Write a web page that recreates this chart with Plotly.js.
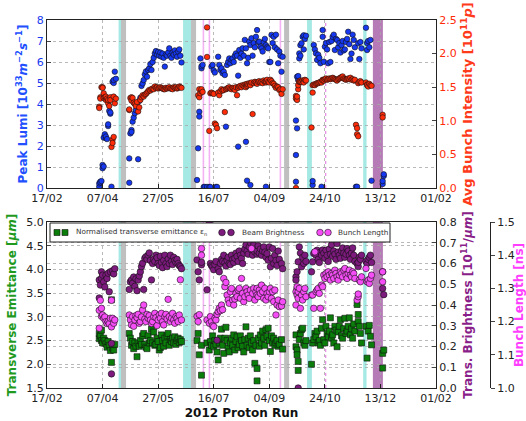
<!DOCTYPE html>
<html><head><meta charset="utf-8">
<script src="https://cdn.plot.ly/plotly-3.0.1.min.js"></script>
<style>html,body{margin:0;padding:0;background:#fff}#chart{width:526px;height:421px}</style>
</head><body><div id="chart"></div>
<script>
// ---------------- DATA (top panel: per fill) ----------------
const topDays = [
 '04-04','04-04','04-05','04-05','04-06','04-07','04-07','04-08','04-08','04-09','04-10','04-10','04-11','04-12','04-12','04-13','04-14','04-14','04-15','04-16','04-16','04-17','04-17','04-18','04-19',
 '05-01','05-01','05-02','05-03','05-03','05-04','05-05','05-06','05-07','05-08','05-09','05-10','05-11','05-12','05-13','05-14','05-15','05-16','05-17','05-18','05-19','05-20','05-21','05-22','05-23','05-24','05-25','05-26','05-27','05-28','05-29','05-30','05-31',
 '06-01','06-02','06-03','06-04','06-05','06-06','06-07','06-08','06-09','06-10','06-11','06-12','06-13','06-14','06-15','06-16','06-17',
 '07-01','07-02','07-03','07-03','07-04','07-05','07-05','07-06','07-07','07-08','07-10','07-10','07-12','07-13','07-14','07-15','07-16','07-17','07-18','07-19','07-20','07-21','07-22','07-23','07-24','07-25','07-26','07-27','07-28','07-29','07-30','07-31',
 '08-01','08-02','08-03','08-04','08-05','08-06','08-07','08-07','08-08','08-09','08-10','08-11','08-12','08-13','08-14','08-14','08-15','08-15','08-16','08-17','08-18','08-18','08-19','08-20','08-21','08-22','08-23','08-24','08-25','08-26','08-27','08-28','08-29','08-30','08-31',
 '09-01','09-01','09-02','09-03','09-04','09-05','09-06','09-07','09-08','09-09','09-10','09-11','09-12','09-13','09-14','09-15','09-16',
 '09-28','09-28','09-28','09-29','09-29','09-30','09-30','10-01','10-01','10-02','10-02','10-03','10-04','10-05','10-05','10-06','10-07',
 '10-12','10-13','10-13','10-14','10-15','10-16','10-17','10-18','10-19','10-20','10-21','10-22','10-22','10-23','10-24','10-25','10-26','10-27','10-28','10-29','10-30','10-31',
 '11-01','11-02','11-03','11-04','11-05','11-06','11-07','11-08','11-09','11-10','11-11','11-12','11-13','11-14','11-15','11-16','11-17','11-18','11-19','11-20','11-21','11-22','11-22','11-23','11-23','11-24','11-25','11-26',
 '11-30','12-01','12-01','12-02','12-03','12-04','12-05','12-15','12-15','12-16','12-16'
];
const peakLumi = [
 0.06,0.22,0.30,0.27,0.33,0.94,1.10,1.02,2.40,2.56,2.37,2.45,2.33,2.95,3.03,3.67,3.54,3.60,0.06,null,5.06,5.00,5.14,5.54,5.20,
 0.25,1.41,2.60,2.76,2.67,3.16,3.35,3.56,3.71,3.92,1.37,4.14,4.30,4.86,4.98,5.14,5.41,5.55,5.30,5.62,5.70,5.90,5.62,6.00,6.20,6.41,6.52,6.35,6.48,6.30,6.45,6.25,6.40,
 6.20,5.78,6.35,6.30,6.45,6.65,6.30,6.20,6.45,6.35,6.55,6.40,6.25,6.50,6.60,6.30,5.98,
 0.38,1.89,3.63,3.40,6.17,5.70,5.80,5.86,0.05,0.05,0.05,null,0.05,0.05,5.78,5.86,5.60,5.50,0.05,0.05,6.25,5.86,5.62,5.70,5.46,5.54,5.38,2.92,5.86,6.00,6.17,5.94,
 6.10,6.17,6.00,6.30,6.41,6.30,5.35,1.97,6.57,6.20,6.40,6.65,6.30,7.05,6.65,2.20,0.35,5.94,6.20,6.97,6.81,0.14,7.13,6.30,6.90,6.70,7.20,7.52,6.95,6.97,6.73,6.65,6.50,6.95,7.10,
 0.06,6.80,6.70,6.65,6.00,6.00,7.29,6.90,7.20,6.70,7.30,6.60,5.94,6.50,6.30,5.54,6.25,
 0.30,1.57,3.21,2.84,5.30,5.14,5.33,6.41,6.17,6.30,6.80,6.89,7.20,7.27,6.60,7.10,7.25,
 null,0.14,0.33,6.81,6.60,6.41,6.10,6.35,6.20,5.94,0.06,7.52,7.20,6.01,6.73,6.90,6.60,5.94,6.95,6.00,7.00,7.20,
 7.30,6.57,7.10,7.05,6.70,6.90,6.45,6.80,7.00,6.55,6.60,6.95,7.10,7.44,6.85,6.14,6.40,7.30,7.05,6.70,0.06,0.06,null,null,6.89,6.14,6.95,6.65,
 7.63,6.57,6.90,7.00,6.70,7.05,0.35,0.19,0.33,0.57,0.65
];
const bunchIntensity = [
 1.21,1.19,1.35,1.33,1.50,1.50,1.49,1.34,1.41,1.35,1.31,1.36,1.33,1.26,1.31,1.22,1.35,1.31,0.61,0.72,0.67,0.76,1.36,1.26,1.33,
 1.16,1.17,1.34,1.35,1.30,1.34,1.27,1.25,1.22,1.28,1.14,1.20,1.31,1.35,1.38,1.36,1.39,1.40,1.42,1.44,1.46,1.45,1.47,1.48,1.47,1.51,1.49,1.50,1.48,1.49,1.50,1.49,1.48,
 1.47,1.47,1.49,1.48,1.49,1.50,1.48,1.48,1.47,1.50,1.49,1.50,1.48,1.49,1.51,1.50,1.49,
 null,1.38,1.47,1.35,1.41,1.44,1.47,1.43,null,null,2.39,1.95,0.85,1.41,1.42,1.41,1.40,0.96,0.94,0.89,1.42,1.38,1.44,1.47,1.45,1.46,1.13,1.47,1.48,1.49,1.50,1.48,
 1.47,1.49,1.48,1.46,1.50,1.38,1.50,1.49,1.51,1.52,1.50,1.53,1.52,1.54,1.53,1.50,1.52,1.55,1.54,1.56,1.55,1.53,1.57,1.10,1.56,1.58,1.57,1.55,1.58,1.59,1.57,1.58,1.56,1.60,1.58,
 1.57,1.59,1.61,1.58,1.57,1.61,1.59,1.56,1.55,1.52,1.49,1.51,1.50,1.46,1.47,1.40,1.47,
 0.00,1.37,1.33,1.31,1.36,1.47,1.53,1.58,1.59,1.60,1.58,1.58,1.60,1.59,1.57,1.61,1.60,
 0.90,1.42,1.53,1.54,1.53,1.55,1.56,1.56,1.57,1.58,1.57,1.61,1.60,1.60,1.62,1.63,1.61,1.62,1.63,1.62,1.63,1.64,
 1.63,1.62,1.61,1.60,1.62,1.63,1.64,1.65,1.66,1.63,1.62,1.61,1.62,1.63,1.62,1.64,1.61,1.62,1.60,1.61,0.94,0.89,0.80,0.77,1.56,1.58,1.59,1.57,
 1.57,1.54,1.53,1.51,1.55,1.53,1.52,1.09,1.05,null,null
];

// ---------------- DATA (bottom panel: per fill) ----------------
const botDays = [
 '04-04','04-04','04-05','04-06','04-06','04-07','04-08','04-09','04-10','04-11','04-12','04-13','04-14','04-15','04-15','04-16','04-17','04-18',
 '05-01','05-02','05-03','05-04','05-05','05-06','05-07','05-08','05-09','05-10','05-11','05-12','05-13','05-14','05-15','05-16','05-17','05-18','05-19','05-20','05-21','05-22','05-23','05-24','05-25','05-26','05-27','05-28','05-29','05-30','05-31',
 '06-01','06-02','06-03','06-04','06-05','06-06','06-07','06-08','06-09','06-10','06-11','06-12','06-13','06-14','06-15','06-16','06-17',
 '07-01','07-02','07-03','07-05','07-05','07-10','07-12','07-13','07-14','07-15','07-16','07-17','07-18','07-19','07-20','07-21','07-22','07-23','07-24','07-25','07-26','07-27','07-28','07-29','07-30','07-31',
 '08-01','08-02','08-03','08-04','08-05','08-06','08-07','08-08','08-09','08-10','08-11','08-12','08-13','08-14','08-15','08-16','08-17','08-18','08-19','08-20','08-21','08-22','08-23','08-24','08-24','08-25','08-26','08-27','08-28','08-29','08-30','08-31',
 '09-01','09-02','09-03','09-04','09-05','09-06','09-07','09-08','09-09','09-10','09-11','09-12','09-13','09-15','09-16',
 '09-28','09-28','09-29','09-29','09-30','09-30','10-01','10-02','10-03','10-04','10-05','10-06','10-07',
 '10-12','10-13','10-14','10-15','10-16','10-17','10-18','10-19','10-20','10-21','10-22','10-23','10-24','10-25','10-26','10-27','10-28','10-29','10-30','10-31',
 '11-01','11-02','11-03','11-04','11-05','11-06','11-07','11-08','11-09','11-10','11-11','11-12','11-13','11-14','11-15','11-16','11-17','11-18','11-19','11-20','11-22','11-23','11-23','11-24','11-25','11-26',
 '11-30','12-01','12-02','12-03','12-04','12-05','12-15','12-15','12-16'
];
const emittance = [
 2.54,2.65,2.60,2.72,2.50,2.45,2.55,2.50,2.43,2.36,2.48,2.40,2.29,2.04,3.36,2.35,2.30,2.42,
 2.65,2.55,2.40,2.48,2.33,2.45,2.38,2.16,2.45,2.38,2.50,2.42,2.60,2.65,2.42,2.36,2.33,2.60,2.45,2.50,2.74,2.45,2.68,2.40,2.42,2.55,2.48,2.30,2.35,2.62,2.50,
 2.38,2.55,2.45,2.60,2.65,2.40,2.52,2.48,2.55,2.45,2.58,2.42,2.50,2.55,2.46,2.52,2.48,
 2.50,2.65,2.20,1.77,2.40,2.45,2.30,2.48,2.40,2.60,2.38,2.50,2.42,2.26,2.09,2.45,2.55,2.74,2.40,2.23,2.55,2.78,2.50,2.35,2.26,2.45,
 2.55,2.40,2.62,2.30,2.48,2.58,2.35,2.42,2.60,2.50,2.38,2.26,2.52,2.79,2.40,2.55,2.35,2.60,2.45,2.30,2.50,2.02,2.40,1.91,1.65,2.55,2.38,2.62,2.45,2.70,2.55,2.40,
 2.73,2.59,2.76,2.50,2.27,2.60,2.45,2.55,2.40,2.45,2.50,2.38,2.42,2.52,2.32,
 2.62,2.37,2.30,2.20,2.06,1.87,2.52,2.65,2.73,2.76,2.45,2.40,2.50,
 2.00,2.45,2.52,2.65,2.58,2.70,2.45,2.50,2.40,2.76,2.94,2.52,2.45,2.80,2.65,2.58,2.70,2.98,2.55,2.62,
 2.45,2.80,2.72,2.37,2.68,2.80,2.94,2.60,2.55,2.75,2.97,2.65,2.70,2.80,2.98,2.62,2.75,2.55,2.85,2.70,3.26,3.05,2.90,2.80,2.65,2.45,
 2.80,2.13,2.70,2.82,2.59,2.41,1.92,2.23,2.30
];
const brightness = [
 0.434,0.521,0.496,0.528,0.560,0.544,0.512,0.487,0.544,0.528,0.553,0.464,0.560,0.215,0.068,0.565,0.550,0.575,
 0.475,0.512,0.521,0.505,0.535,0.490,0.526,0.469,0.520,0.540,0.560,0.585,0.601,0.475,0.625,0.633,0.620,0.640,0.651,0.615,0.521,0.600,0.620,0.610,0.640,0.628,0.600,0.590,0.635,0.605,0.580,
 0.615,0.640,0.600,0.585,0.622,0.600,0.640,0.610,0.595,0.630,0.615,0.605,0.620,0.600,0.590,0.585,0.575,
 0.617,0.560,0.521,0.594,0.606,0.473,0.800,0.600,0.590,0.585,0.570,0.595,0.610,0.230,0.575,0.560,0.600,0.620,0.610,0.640,0.605,0.588,0.615,0.630,0.600,0.595,
 0.640,0.620,0.605,0.625,0.650,0.635,0.610,0.660,0.640,0.625,0.600,0.650,0.670,0.690,0.660,0.645,0.680,0.700,0.665,0.640,0.690,0.655,0.670,0.645,0.660,0.685,0.650,0.670,0.640,0.660,0.680,0.655,
 0.630,0.648,0.616,0.680,0.584,0.625,0.672,0.600,0.640,0.615,0.590,0.660,0.620,0.600,0.575,
 0.536,0.520,0.480,0.560,0.000,0.608,0.680,0.650,0.584,0.630,0.600,0.640,0.610,
 0.560,0.608,0.648,0.655,0.640,0.664,0.620,0.605,0.655,0.640,0.665,0.650,0.625,0.664,0.640,0.610,0.670,0.645,0.690,0.635,
 0.660,0.645,0.620,0.696,0.655,0.640,0.625,0.660,0.675,0.650,0.630,0.645,0.672,0.660,0.640,0.620,0.650,0.675,0.640,0.610,0.600,0.585,0.605,0.630,0.620,0.640,
 0.610,0.600,0.620,0.630,0.640,0.605,0.560,0.480,0.450
];
const bunchLength = [
 1.234,1.180,1.264,1.216,1.240,1.220,1.210,1.214,1.200,1.194,1.200,1.194,1.210,1.184,1.264,1.210,1.195,1.205,
 1.220,1.205,1.190,1.215,1.186,1.205,1.218,1.212,1.222,1.195,1.200,1.214,1.235,1.250,1.208,1.200,1.222,1.210,1.218,1.205,1.194,1.200,1.215,1.225,1.212,1.188,1.205,1.220,1.210,1.225,1.200,
 1.190,1.215,1.222,1.208,1.267,1.215,1.200,1.210,1.225,1.205,1.195,1.215,1.210,1.200,1.220,1.326,1.205,
 1.216,1.200,1.221,1.420,1.400,1.205,1.195,1.215,1.200,1.188,1.185,1.210,1.205,1.222,1.230,1.240,1.233,1.250,1.236,1.330,1.305,1.318,1.280,1.265,1.255,1.290,
 1.300,1.265,1.250,1.268,1.285,1.275,1.295,1.300,1.270,1.330,1.285,1.260,1.275,1.300,1.290,1.280,1.270,1.295,1.420,1.285,1.300,1.265,1.290,1.280,1.300,1.275,1.295,1.285,1.310,1.290,1.270,1.300,
 1.265,1.285,1.275,1.290,1.300,1.270,1.290,1.260,1.295,1.220,1.250,1.265,1.245,1.247,1.260,
 1.250,1.290,1.305,1.280,1.270,1.290,1.300,1.240,1.280,1.265,1.290,1.300,1.275,
 1.280,1.280,1.240,1.410,1.290,1.295,1.300,1.285,1.240,1.310,1.305,1.340,1.330,1.345,1.335,1.350,1.340,1.325,1.345,1.340,
 1.330,1.355,1.345,1.335,1.325,1.340,1.350,1.345,1.335,1.355,1.360,1.340,1.330,1.345,1.355,1.340,1.335,1.350,1.345,1.330,1.265,1.275,1.283,1.325,1.320,1.335,
 1.360,1.320,1.325,1.315,1.330,1.340,1.350,1.320,null
];

// ---------------- beam-mode periods (shaded bands / lines) ----------------
const bandStart = ['2012-04-21 10:00','2012-04-23 14:00','2012-06-18 10:00','2012-06-25 14:00','2012-09-17 08:00','2012-10-08 00:00','2012-11-27 12:00','2012-12-06 05:00'];
const bandEnd   = ['2012-04-23 14:00','2012-04-28 03:00','2012-06-25 14:00','2012-06-30 03:00','2012-09-21 20:00','2012-10-12 08:00','2012-11-30 12:00','2012-12-15 05:00'];
const bandKind  = ['md','ts','md','ts','ts','md','md','ion'];
const lineDates = ['2012-07-06 17:00','2012-07-12 03:00','2012-09-14 00:00','2012-10-24 19:00'];
const lineKind  = ['solid','solid','solid','dot'];

const tickDates  = ['2012-02-17','2012-04-07','2012-05-27','2012-07-16','2012-09-04','2012-10-24','2012-12-13','2013-02-01'];
const tickLabels = ['17/02','07/04','27/05','16/07','04/09','24/10','13/12','01/02'];
const legendLabels = ['Normalised transverse emittance ε<sub>n</sub>','Beam Brightness','Bunch Length'];

// ---------------- build ----------------
const W = 526, H = 421;
const xd = [47/W, 436/W];
const topY = [(H-188)/H, (H-20)/H];
const botY = [(H-388)/H, (H-222)/H];
const FONT = 'DejaVu Sans';
const tX = topDays.map(d => '2012-' + d);
const bX = botDays.map(d => '2012-' + d);

const BLUE = '#1638f0', RED = '#ff2c0a', GREEN = '#0a7d0a', PURPLE = '#7d1a7d', PINK = '#f64ef6';
const edge = {color:'#111', width:0.6};

const traces = [
 {x:tX, y:peakLumi, xaxis:'x', yaxis:'y', type:'scatter', mode:'markers', name:'Peak Lumi',
  marker:{color:BLUE, size:5.5, line:edge}},
 {x:tX, y:bunchIntensity, xaxis:'x', yaxis:'y2', type:'scatter', mode:'markers', name:'Avg Bunch Intensity',
  marker:{color:RED, size:5.5, line:edge}},
 {x:bX, y:emittance, xaxis:'x2', yaxis:'y3', type:'scatter', mode:'markers', name:legendLabels[0],
  marker:{color:GREEN, size:6, symbol:'square', line:edge}},
 {x:bX, y:brightness, xaxis:'x2', yaxis:'y4', type:'scatter', mode:'markers', name:legendLabels[1],
  marker:{color:PURPLE, size:6.5, line:edge}},
 {x:bX, y:bunchLength, xaxis:'x2', yaxis:'y5', type:'scatter', mode:'markers', name:legendLabels[2],
  marker:{color:PINK, size:6.5, line:edge}}
];

const bandColor = {md:'#a4e9e4', ts:'#bfbfbf', ion:'#b67ab6'};
const shapes = [];
[['x','y domain'],['x2','y3 domain']].forEach(([xr,yr]) => {
  bandStart.forEach((s,i) => shapes.push({type:'rect', xref:xr, yref:yr, x0:s, x1:bandEnd[i], y0:0, y1:1,
     fillcolor:bandColor[bandKind[i]], line:{width:0}, layer:'below'}));
  lineDates.forEach((d,i) => shapes.push({type:'line', xref:xr, yref:yr, x0:d, x1:d, y0:0, y1:1,
     line:{color: lineKind[i]==='dot' ? '#e070e0' : '#f4b2f4', width: lineKind[i]==='dot'?1:1.6, dash:lineKind[i]}, layer:'below'}));
});

// legend box (matplotlib style: two markers per entry), drawn in paper pixels
const px = v => v/W, py = v => 1 - v/H;
const legendAnnots = [];
(function(){
  const top = 223, bot = 242, yc = (top+bot)/2;
  shapes.push({type:'rect', xref:'paper', yref:'paper', x0:px(50), x1:px(390), y0:py(bot), y1:py(top),
     fillcolor:'#fff', line:{color:'#222', width:1}, layer:'above'});
  const items = [
    {cols:[57,65], color:GREEN, sq:true, tx:74},
    {cols:[222,231], color:PURPLE, sq:false, tx:240},
    {cols:[320,328], color:PINK, sq:false, tx:336}
  ];
  items.forEach((it,k) => {
    it.cols.forEach(cx => {
      const r = it.sq ? 3 : 3.3;
      shapes.push({type: it.sq ? 'rect' : 'circle', xref:'paper', yref:'paper',
        x0:px(cx-r), x1:px(cx+r), y0:py(yc+r), y1:py(yc-r),
        fillcolor:it.color, line:{color:'#111', width:0.6}, layer:'above'});
    });
    legendAnnots.push({xref:'paper', yref:'paper', x:px(it.tx), y:py(yc), xanchor:'left', yanchor:'middle',
      text:legendLabels[k], showarrow:false, font:{family:FONT, size:7.3, color:'#333'}});
  });
})();

const gridStyle = {showgrid:true, gridcolor:'#a8a8a8', griddash:'dot', gridwidth:0.8};
const frame = {showline:true, linecolor:'#222', linewidth:1, zeroline:false};
const xCommon = Object.assign({type:'date', range:['2012-02-17','2013-02-01'], tickmode:'array', tickvals:tickDates, ticktext:tickLabels,
  ticks:'inside', ticklen:4, tickcolor:'#222', mirror:true, tickfont:{family:FONT, size:11, color:'#222'}}, gridStyle, frame);

const layout = {
  width:W, height:H, margin:{l:0,r:0,t:0,b:0}, paper_bgcolor:'#fff', plot_bgcolor:'#fff',
  font:{family:FONT, size:11, color:'#222'},
  showlegend:false,
  xaxis: Object.assign({}, xCommon, {domain:xd, anchor:'y'}),
  xaxis2: Object.assign({}, xCommon, {domain:xd, anchor:'y3',
     title:{text:'<b>2012 Proton Run</b>', font:{family:FONT, size:12, color:'#111'}, standoff:4}}),
  yaxis: Object.assign({domain:topY, range:[0,8], dtick:1, ticks:'inside', ticklen:4, mirror:true,
     tickfont:{family:FONT, size:11, color:BLUE},
     title:{text:'<b>Peak Lumi [10<sup>33</sup><i>m</i><sup>−2</sup><i>s</i><sup>−1</sup>]</b>', font:{family:FONT, size:12, color:'#2250ff'}, standoff:6}}, gridStyle, frame),
  yaxis2: Object.assign({overlaying:'y', side:'right', anchor:'x', range:[0,2.5], dtick:0.5, tickformat:'.1f', ticks:'inside', ticklen:4,
     showgrid:false, tickfont:{family:FONT, size:11, color:RED},
     title:{text:'<b>Avg Bunch Intensity [10<sup>11</sup><i>p</i>]</b>', font:{family:FONT, size:13, color:'#ff3a1a'}, standoff:7}}, frame),
  yaxis3: Object.assign({domain:botY, anchor:'x2', range:[1.5,5.0], dtick:0.5, tickformat:'.1f', ticks:'inside', ticklen:4, mirror:true,
     tickfont:{family:FONT, size:11, color:'#222'},
     title:{text:'<b>Transverse Emittance [<i>μm</i>]</b>', font:{family:FONT, size:12, color:'#1f9a1f'}, standoff:7}}, gridStyle, frame),
  yaxis4: Object.assign({overlaying:'y3', side:'right', anchor:'x2', range:[0,0.8], dtick:0.1, tickformat:'.1f', ticks:'inside', ticklen:4,
     tickfont:{family:FONT, size:11, color:'#222'},
     title:{text:'<b>Trans. Brightness [10<sup>11</sup>/<i>μm</i>]</b>', font:{family:FONT, size:12, color:'#8a1f8a'}, standoff:7}}, gridStyle, frame),
  yaxis5: Object.assign({overlaying:'y3', side:'right', anchor:'free', position:490/W, range:[1.0,1.5], dtick:0.1, tickformat:'.1f',
     ticks:'outside', ticklen:4, showgrid:false,
     tickfont:{family:FONT, size:11, color:'#222'},
     title:{text:'<b>Bunch Length [ns]</b>', font:{family:FONT, size:12, color:'#ff3dff'}, standoff:3}}, frame),
  shapes: shapes,
  annotations: legendAnnots
};

Plotly.newPlot('chart', traces, layout, {staticPlot:true, displayModeBar:false});
</script></body></html>
